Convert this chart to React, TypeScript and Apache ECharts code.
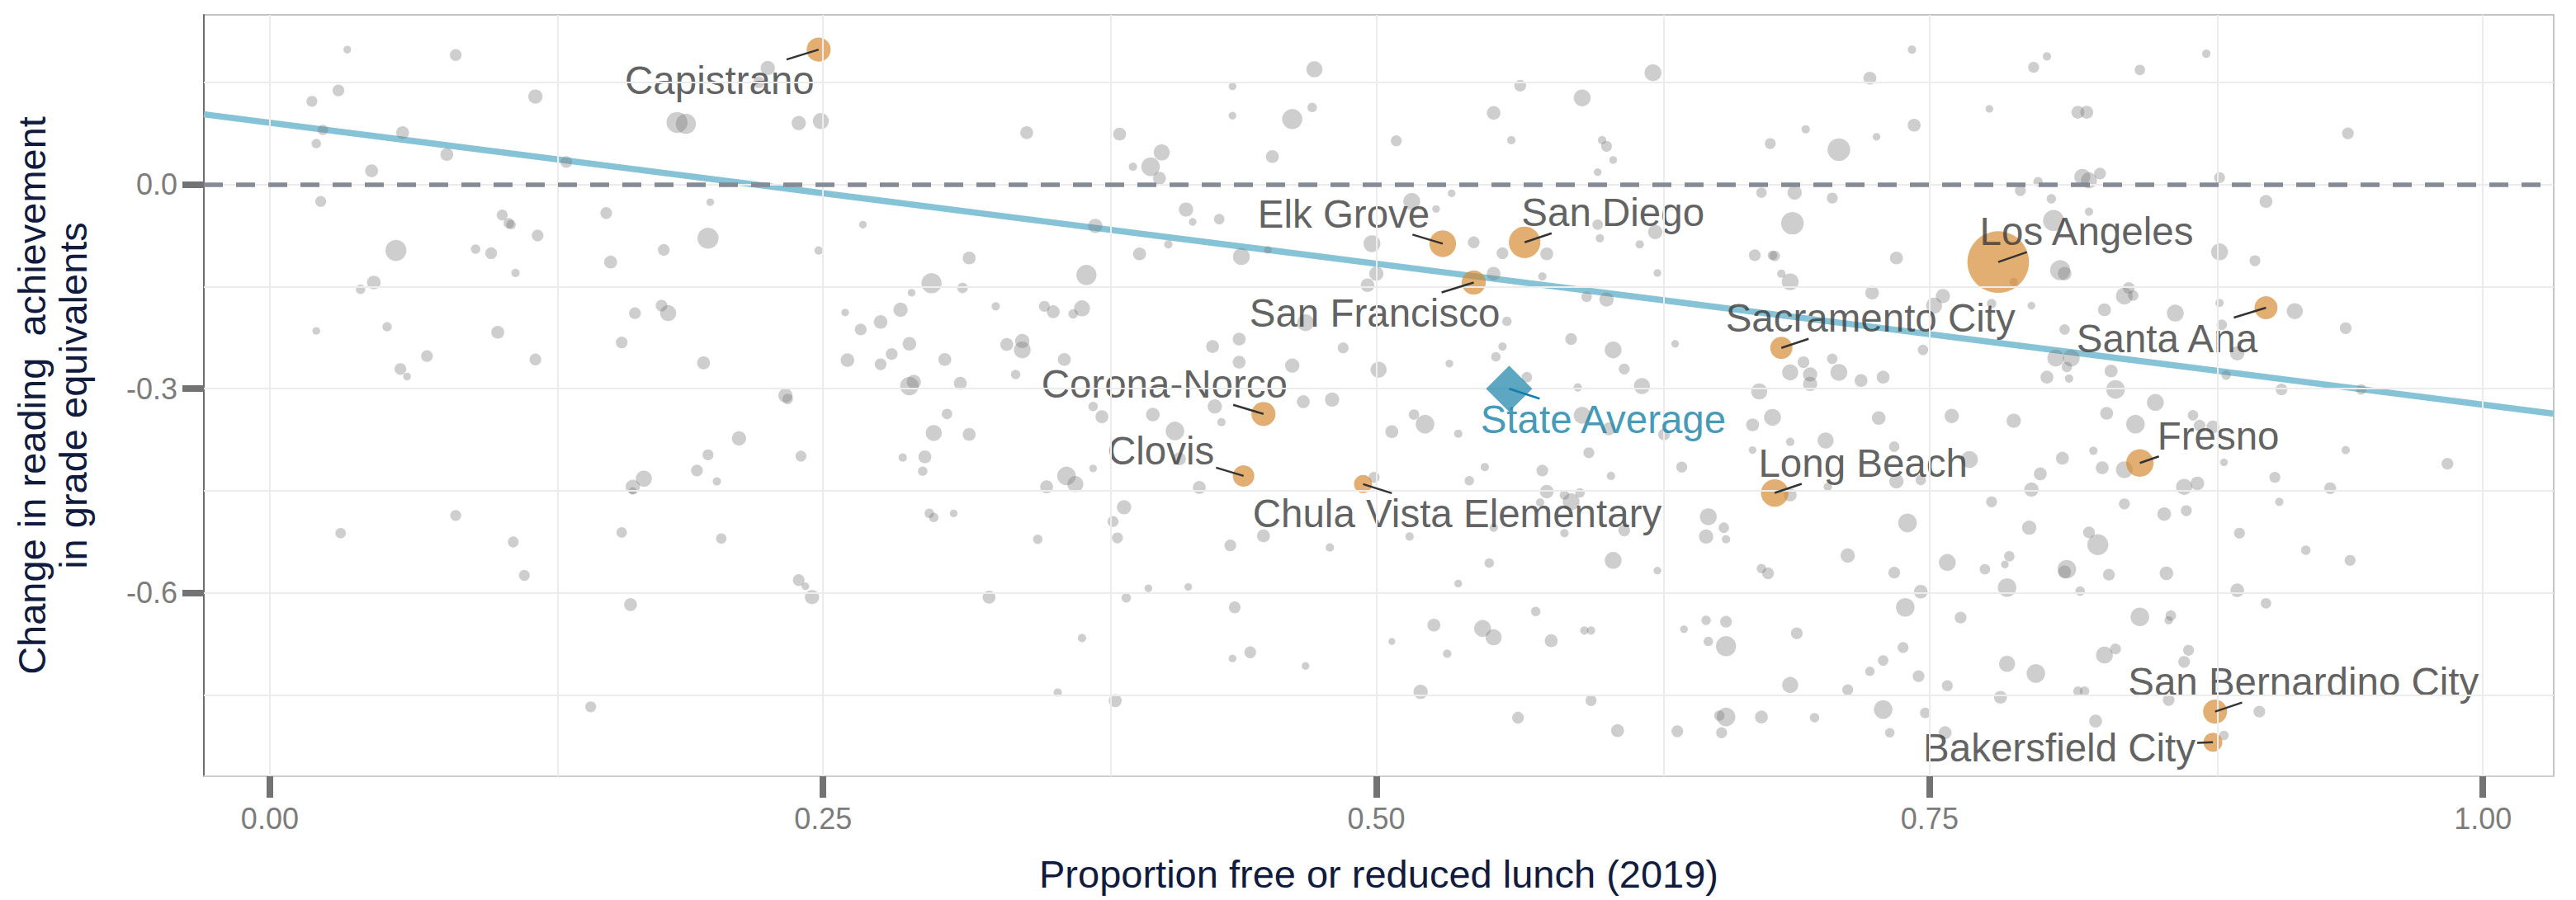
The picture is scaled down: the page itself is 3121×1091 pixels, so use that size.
import React, { useEffect, useRef } from "react";
import * as echarts from "echarts";

// ---------- DATA ----------
// Other districts: [proportion free/reduced lunch 2019, change in reading (grade equivalents), enrollment (thousands)]
const otherDistricts: [number, number, number][] = [
  [0.035, 0.198, 4], [0.084, 0.190, 12], [0.031, 0.138, 12], [0.019, 0.122, 10], [0.120, 0.129, 19],
  [0.225, 0.171, 19], [0.221, 0.150, 12], [0.184, 0.091, 46], [0.188, 0.089, 42], [0.239, 0.090, 19],
  [0.249, 0.093, 25], [0.024, 0.080, 9], [0.060, 0.076, 15], [0.021, 0.060, 7], [0.080, 0.044, 15],
  [0.134, 0.033, 12], [0.046, 0.020, 15], [0.023, -0.025, 10], [0.199, -0.026, 4], [0.152, -0.042, 12],
  [0.105, -0.045, 10], [0.108, -0.057, 9], [0.109, -0.059, 7], [0.121, -0.075, 12], [0.268, -0.059, 4],
  [0.057, -0.097, 46], [0.093, -0.095, 7], [0.100, -0.101, 12], [0.198, -0.079, 46], [0.178, -0.096, 12],
  [0.154, -0.114, 15], [0.248, -0.097, 5], [0.316, -0.108, 15], [0.111, -0.130, 5], [0.047, -0.144, 17],
  [0.041, -0.154, 7], [0.299, -0.145, 42], [0.313, -0.152, 9], [0.290, -0.159, 4], [0.165, -0.189, 12],
  [0.177, -0.178, 12], [0.180, -0.189, 25], [0.285, -0.184, 19], [0.260, -0.188, 4], [0.276, -0.202, 17],
  [0.267, -0.213, 12], [0.021, -0.215, 4], [0.053, -0.209, 7], [0.103, -0.217, 15], [0.159, -0.232, 12],
  [0.289, -0.234, 17], [0.071, -0.252, 12], [0.120, -0.257, 12], [0.196, -0.262, 15], [0.261, -0.258, 17],
  [0.281, -0.249, 12], [0.276, -0.264, 12], [0.305, -0.257, 15], [0.059, -0.271, 12], [0.062, -0.282, 4],
  [0.289, -0.296, 35], [0.291, -0.290, 19], [0.312, -0.292, 15], [0.233, -0.310, 19],
  [0.234, -0.315, 9], [0.306, -0.337, 9], [0.300, -0.365, 25], [0.316, -0.367, 15], [0.212, -0.373, 19],
  [0.198, -0.397, 10], [0.240, -0.399, 10], [0.286, -0.401, 5], [0.296, -0.400, 15], [0.193, -0.420, 12],
  [0.295, -0.421, 7], [0.169, -0.432, 25], [0.164, -0.444, 19], [0.202, -0.436, 5], [0.164, -0.450, 4],
  [0.084, -0.486, 10], [0.032, -0.512, 9], [0.110, -0.525, 10], [0.159, -0.511, 9], [0.204, -0.520, 9],
  [0.298, -0.483, 7], [0.300, -0.489, 7], [0.309, -0.483, 4], [0.115, -0.574, 10], [0.239, -0.581, 12],
  [0.242, -0.590, 4], [0.245, -0.606, 19], [0.163, -0.617, 15], [0.145, -0.767, 10],
  [0.472, 0.169, 25], [0.625, 0.164, 28], [0.435, 0.144, 4], [0.565, 0.145, 12], [0.593, 0.127, 28],
  [0.462, 0.096, 42], [0.471, 0.113, 7], [0.435, 0.101, 4], [0.553, 0.105, 17], [0.342, 0.076, 15],
  [0.384, 0.074, 15], [0.509, 0.064, 10], [0.561, 0.065, 5], [0.602, 0.065, 5], [0.604, 0.056, 10],
  [0.607, 0.036, 4], [0.600, 0.018, 4], [0.678, 0.060, 10], [0.403, 0.047, 25], [0.398, 0.026, 35],
  [0.390, 0.026, 5], [0.402, 0.009, 15], [0.453, 0.041, 15], [0.674, -0.012, 9], [0.534, -0.013, 4],
  [0.516, -0.025, 28], [0.414, -0.037, 19], [0.429, -0.051, 9], [0.417, -0.055, 4], [0.527, -0.036, 4],
  [0.600, -0.059, 9], [0.626, -0.070, 19], [0.601, -0.079, 5], [0.619, -0.088, 5], [0.373, -0.061, 19],
  [0.406, -0.088, 5], [0.498, -0.087, 28], [0.544, -0.085, 12], [0.557, -0.101, 12], [0.577, -0.102, 15],
  [0.393, -0.102, 15], [0.439, -0.106, 28], [0.451, -0.096, 4], [0.671, -0.104, 12], [0.679, -0.104, 7],
  [0.369, -0.133, 42], [0.500, -0.131, 19], [0.496, -0.148, 17], [0.553, -0.131, 17], [0.575, -0.135, 5],
  [0.627, -0.130, 4], [0.595, -0.165, 9], [0.604, -0.169, 19], [0.328, -0.179, 5], [0.350, -0.179, 10],
  [0.354, -0.187, 15], [0.363, -0.190, 7], [0.367, -0.182, 25], [0.468, -0.203, 28], [0.559, -0.201, 7],
  [0.333, -0.235, 15], [0.340, -0.230, 19], [0.340, -0.243, 28], [0.426, -0.238, 15], [0.438, -0.227, 15],
  [0.485, -0.240, 10], [0.588, -0.227, 12], [0.607, -0.243, 28], [0.635, -0.234, 4], [0.557, -0.238, 5],
  [0.554, -0.253, 7], [0.359, -0.257, 15], [0.438, -0.261, 15], [0.462, -0.266, 19], [0.501, -0.272, 25],
  [0.533, -0.263, 4], [0.612, -0.271, 10], [0.337, -0.279, 7], [0.568, -0.283, 9], [0.620, -0.296, 25],
  [0.591, -0.298, 5], [0.673, -0.304, 25],
  [0.372, -0.326, 7], [0.376, -0.341, 15], [0.399, -0.338, 17], [0.427, -0.326, 19], [0.430, -0.349, 5],
  [0.409, -0.362, 35], [0.467, -0.319, 15], [0.480, -0.316, 19], [0.507, -0.363, 15], [0.522, -0.352, 35],
  [0.517, -0.338, 9], [0.537, -0.366, 5], [0.593, -0.339, 28], [0.605, -0.359, 15], [0.630, -0.367, 12],
  [0.670, -0.353, 15], [0.596, -0.394, 10], [0.638, -0.415, 10], [0.670, -0.390, 4], [0.372, -0.417, 4],
  [0.411, -0.403, 15], [0.360, -0.428, 35], [0.364, -0.440, 25], [0.351, -0.444, 15], [0.420, -0.445, 15],
  [0.549, -0.415, 5], [0.575, -0.420, 12], [0.606, -0.428, 5], [0.542, -0.435, 7], [0.499, -0.430, 10],
  [0.577, -0.451, 17], [0.585, -0.456, 7], [0.588, -0.466, 28], [0.592, -0.453, 7], [0.574, -0.467, 5],
  [0.650, -0.488, 28], [0.657, -0.504, 9], [0.649, -0.517, 19], [0.658, -0.521, 5], [0.612, -0.508, 12],
  [0.585, -0.512, 5], [0.553, -0.504, 5], [0.386, -0.474, 19], [0.381, -0.495, 10], [0.383, -0.519, 10],
  [0.347, -0.521, 7], [0.434, -0.530, 12], [0.449, -0.516, 15], [0.479, -0.533, 5], [0.515, -0.517, 5],
  [0.607, -0.552, 28], [0.551, -0.556, 7], [0.627, -0.567, 4], [0.674, -0.564, 7], [0.677, -0.571, 12],
  [0.537, -0.586, 4], [0.325, -0.606, 15], [0.387, -0.607, 7], [0.397, -0.593, 4], [0.415, -0.591, 4],
  [0.436, -0.621, 12], [0.572, -0.627, 7], [0.526, -0.647, 15], [0.548, -0.652, 28], [0.553, -0.665, 25],
  [0.579, -0.670, 15], [0.594, -0.655, 5], [0.597, -0.655, 5], [0.639, -0.653, 4], [0.649, -0.640, 7],
  [0.658, -0.642, 12], [0.650, -0.671, 7], [0.658, -0.678, 42], [0.367, -0.666, 5], [0.435, -0.696, 4],
  [0.443, -0.687, 12], [0.468, -0.707, 4], [0.507, -0.671, 3], [0.532, -0.689, 5], [0.356, -0.746, 5],
  [0.382, -0.758, 15], [0.520, -0.745, 19], [0.597, -0.758, 10], [0.564, -0.783, 12], [0.609, -0.802, 15],
  [0.636, -0.803, 12], [0.656, -0.805, 10], [0.658, -0.782, 35], [0.655, -0.780, 9], [0.674, -0.782, 15],
  [0.742, 0.198, 5], [0.803, 0.188, 5], [0.797, 0.172, 10], [0.845, 0.168, 9], [0.875, 0.192, 5],
  [0.723, 0.156, 15], [0.777, 0.111, 4], [0.817, 0.106, 15], [0.821, 0.106, 15], [0.939, 0.075, 12],
  [0.694, 0.081, 5], [0.743, 0.087, 15], [0.726, 0.070, 4], [0.709, 0.051, 54], [0.819, 0.011, 25],
  [0.822, 0.006, 25], [0.827, 0.016, 12], [0.799, 0.004, 7], [0.791, -0.009, 10], [0.881, 0.010, 10],
  [0.689, -0.012, 19], [0.706, -0.020, 10], [0.805, -0.021, 7], [0.902, -0.025, 15], [0.822, -0.040, 5],
  [0.688, -0.057, 54], [0.806, -0.053, 46], [0.680, -0.105, 9], [0.735, -0.108, 15], [0.881, -0.099, 28],
  [0.897, -0.112, 10], [0.809, -0.126, 42], [0.811, -0.131, 17], [0.683, -0.131, 5], [0.687, -0.143, 28],
  [0.788, -0.143, 5], [0.724, -0.159, 17], [0.756, -0.164, 19], [0.840, -0.152, 12], [0.838, -0.164, 28],
  [0.842, -0.163, 9], [0.752, -0.178, 25], [0.778, -0.175, 7], [0.796, -0.178, 4], [0.829, -0.184, 15],
  [0.861, -0.189, 28], [0.881, -0.174, 5], [0.915, -0.186, 25], [0.938, -0.211, 12], [0.882, -0.206, 9],
  [0.811, -0.213, 9], [0.747, -0.243, 9], [0.889, -0.248, 19], [0.807, -0.255, 28], [0.814, -0.255, 28],
  [0.812, -0.268, 9], [0.832, -0.274, 15], [0.803, -0.283, 15], [0.813, -0.285, 5], [0.884, -0.280, 7],
  [0.909, -0.301, 12], [0.945, -0.301, 9], [0.834, -0.301, 35], [0.693, -0.261, 12], [0.706, -0.256, 9],
  [0.687, -0.276, 25], [0.696, -0.279, 19], [0.709, -0.276, 28], [0.696, -0.293, 19], [0.719, -0.288, 15],
  [0.729, -0.283, 15],
  [0.679, -0.342, 28], [0.727, -0.343, 17], [0.760, -0.340, 19], [0.788, -0.347, 19], [0.830, -0.336, 15],
  [0.843, -0.352, 35], [0.852, -0.320, 28], [0.869, -0.339, 9], [0.872, -0.354, 12], [0.878, -0.356, 15],
  [0.687, -0.378, 5], [0.703, -0.376, 25], [0.734, -0.385, 9], [0.768, -0.404, 28], [0.746, -0.434, 9],
  [0.735, -0.436, 19], [0.687, -0.456, 15], [0.704, -0.444, 5], [0.810, -0.402, 15], [0.824, -0.391, 5],
  [0.800, -0.425, 15], [0.828, -0.416, 15], [0.838, -0.419, 28], [0.796, -0.448, 19], [0.865, -0.444, 25],
  [0.871, -0.439, 17], [0.883, -0.408, 4], [0.906, -0.430, 10], [0.938, -0.390, 5], [0.984, -0.410, 12],
  [0.931, -0.446, 12], [0.908, -0.466, 5], [0.778, -0.466, 10], [0.838, -0.469, 10], [0.856, -0.484, 17],
  [0.866, -0.479, 10], [0.740, -0.497, 35], [0.795, -0.504, 19], [0.822, -0.511, 12], [0.826, -0.529, 46],
  [0.890, -0.512, 10], [0.920, -0.537, 7], [0.940, -0.552, 10], [0.713, -0.545, 19], [0.758, -0.555, 28],
  [0.775, -0.565, 9], [0.784, -0.558, 4], [0.786, -0.546, 9], [0.812, -0.565, 35], [0.811, -0.569, 15],
  [0.831, -0.573, 12], [0.857, -0.571, 17], [0.734, -0.570, 12], [0.785, -0.592, 35], [0.746, -0.598, 17],
  [0.818, -0.597, 7], [0.889, -0.596, 17], [0.739, -0.621, 35], [0.764, -0.636, 12], [0.845, -0.635, 35],
  [0.859, -0.633, 9], [0.858, -0.640, 5], [0.902, -0.615, 9], [0.690, -0.659, 12], [0.738, -0.680, 10],
  [0.829, -0.691, 28], [0.834, -0.682, 10], [0.867, -0.684, 10], [0.865, -0.701, 12], [0.729, -0.699, 9],
  [0.723, -0.715, 7], [0.745, -0.722, 12], [0.785, -0.704, 25], [0.798, -0.718, 35], [0.687, -0.735, 25],
  [0.713, -0.742, 10], [0.758, -0.736, 10], [0.782, -0.753, 15], [0.817, -0.744, 7], [0.820, -0.744, 7],
  [0.858, -0.757, 12], [0.729, -0.771, 35], [0.748, -0.776, 9], [0.698, -0.783, 7], [0.825, -0.788, 15],
  [0.899, -0.774, 12], [0.732, -0.805, 7], [0.757, -0.805, 15], [0.883, -0.809, 7],
];

// Highlighted districts
const highlightNames = [
  "Capistrano", "Elk Grove", "San Diego", "San Francisco", "Corona-Norco", "Clovis",
  "Chula Vista Elementary", "Los Angeles", "Sacramento City", "Santa Ana", "Long Beach",
  "Fresno", "San Bernardino City", "Bakersfield City",
];
const highlightFrl = [0.248, 0.530, 0.567, 0.544, 0.449, 0.440, 0.494, 0.781, 0.683, 0.902, 0.680, 0.845, 0.879, 0.878];
const highlightChange = [0.198, -0.087, -0.085, -0.144, -0.337, -0.428, -0.440, -0.114, -0.240, -0.181, -0.453, -0.409, -0.774, -0.819];
const highlightEnrollment = [62, 76, 110, 62, 62, 48, 33, 450, 52, 56, 82, 82, 62, 36];

// State average
const stateAverageFrl = 0.560;
const stateAverageChange = -0.300;

// Fitted line
const REG_INTERCEPT = 0.0906;
const REG_SLOPE = -0.414;

// Axes
const X_MIN = -0.0298;
const X_MAX = 1.032;
const Y_MIN = -0.869;
const Y_MAX = 0.249;
const xTickValues = [0, 0.25, 0.5, 0.75, 1];
const yTickValues = [0, -0.3, -0.6];
const xGridValues = [0, 0.125, 0.25, 0.375, 0.5, 0.625, 0.75, 0.875, 1];
const yGridValues = [0.15, 0, -0.15, -0.3, -0.45, -0.6, -0.75];

// ---------- LAYOUT (label offsets from point centre, px) ----------
const highlightLabelOffsets: [number, number][] = [
  [-120, 37], [-120, -36], [107, -36], [-120, 37], [-120, -36], [-100, -30],
  [114, 36], [107, -37], [108, -36], [-120, 37], [107, -36], [95, -33], [107, -36], [-186, 7],
];
const stateLabelOffset: [number, number] = [114, 37];

const FONT = "'Liberation Sans', Arial, Helvetica, sans-serif";
const LABEL_SIZE = 47.5;
const sizeOf = (enroll: number) => 2.5 + 3.4 * Math.sqrt(enroll);

function measure(text: string): number {
  const c = document.createElement("canvas").getContext("2d");
  if (!c) return text.length * LABEL_SIZE * 0.5;
  c.font = `${LABEL_SIZE}px 'Liberation Sans', Arial, sans-serif`;
  return c.measureText(text).width;
}

export default function App() {
  const ref = useRef<HTMLDivElement>(null);

  useEffect(() => {
    if (!ref.current) return;
    const chart = echarts.init(ref.current, undefined, { renderer: "svg" });

    const layoutFor = (offsets: [number, number][]) => (p: any) => {
      const off = offsets[p.dataIndex] || [0, 0];
      const cx = p.rect.x + p.rect.width / 2;
      const cy = p.rect.y + p.rect.height / 2;
      return { x: cx + off[0], y: cy + off[1], align: "center", verticalAlign: "middle" };
    };

    const option: any = {
      animation: false,
      textStyle: { fontFamily: FONT },
      grid: {
        left: 247, right: 27, top: 18, bottom: 150,
        show: true, borderColor: "#c4c4c4", borderWidth: 2, backgroundColor: "#ffffff",
      },
      xAxis: {
        type: "value", min: X_MIN, max: X_MAX,
        splitLine: { show: false },
        axisLine: { show: true, onZero: false, lineStyle: { color: "#cfcfcf", width: 2 } },
        axisTick: { show: true, customValues: xTickValues, length: 26, lineStyle: { color: "#737373", width: 8 } },
        axisLabel: {
          customValues: xTickValues, formatter: (v: number) => v.toFixed(2),
          margin: 33, fontSize: 36, color: "#7c7c7c", fontFamily: FONT,
        },
        name: "Proportion free or reduced lunch (2019)",
        nameLocation: "middle", nameGap: 95,
        nameTextStyle: { fontSize: 47, color: "#111b3d", fontFamily: FONT, lineHeight: 47 },
      },
      yAxis: {
        type: "value", min: Y_MIN, max: Y_MAX,
        splitLine: { show: false },
        axisLine: { show: true, onZero: false, lineStyle: { color: "#6e6e6e", width: 2 } },
        axisTick: { show: true, customValues: yTickValues, length: 26, lineStyle: { color: "#737373", width: 8 } },
        axisLabel: {
          customValues: yTickValues, formatter: (v: number) => v.toFixed(1),
          margin: 32, fontSize: 36, color: "#7c7c7c", fontFamily: FONT,
        },
        name: "Change in reading  achievement\nin grade equivalents",
        nameLocation: "middle", nameRotate: 90, nameGap: 134,
        nameTextStyle: { fontSize: 47, color: "#111b3d", fontFamily: FONT, lineHeight: 50 },
      },
      series: [
        {
          type: "line", name: "grid", z: 0, silent: true, showSymbol: false,
          data: [[X_MIN, Y_MIN]],
          lineStyle: { width: 0 },
          markLine: {
            silent: true, symbol: "none", animation: false, label: { show: false },
            lineStyle: { color: "#ececec", width: 2, type: "solid" },
            data: [
              ...xGridValues.map((v) => ({ xAxis: v })),
              ...yGridValues.map((v) => ({ yAxis: v })),
            ],
          },
        },
        {
          type: "line", name: "zero", z: 1, silent: true, showSymbol: false,
          data: [[X_MIN, Y_MIN]],
          lineStyle: { width: 0 },
          markLine: {
            silent: true, symbol: "none", animation: false, label: { show: false },
            lineStyle: { color: "#858a97", width: 5.5, type: [23, 16] },
            data: [{ yAxis: 0 }],
          },
        },
        {
          type: "line", name: "fit", z: 2, silent: true, showSymbol: false,
          data: [
            [X_MIN, REG_INTERCEPT + REG_SLOPE * X_MIN],
            [X_MAX, REG_INTERCEPT + REG_SLOPE * X_MAX],
          ],
          lineStyle: { color: "#86c3d7", width: 7.5 },
        },
        {
          type: "scatter", name: "districts", z: 3, silent: true,
          data: otherDistricts,
          symbolSize: (val: number[]) => sizeOf(val[2]),
          itemStyle: { color: "rgba(120,120,120,0.45)" },
        },
        {
          type: "scatter", name: "highlighted", z: 4, silent: true,
          data: highlightNames.map((n, i) => ({
            name: n, value: [highlightFrl[i], highlightChange[i], highlightEnrollment[i]],
          })),
          symbolSize: (val: number[]) => sizeOf(val[2]),
          itemStyle: { color: "rgba(212,135,45,0.85)" },
          label: {
            show: true, formatter: "{b}", fontSize: LABEL_SIZE, color: "#383838", fontFamily: FONT,
          },
          labelLayout: layoutFor(highlightLabelOffsets),
        },
        {
          type: "scatter", name: "state", z: 5, silent: true,
          data: [{ name: "State Average", value: [stateAverageFrl, stateAverageChange] }],
          symbol: "diamond", symbolSize: 56,
          itemStyle: { color: "rgba(16,126,166,0.85)" },
          label: {
            show: true, formatter: "{b}", fontSize: LABEL_SIZE, color: "#1280a6", fontFamily: FONT,
          },
          labelLayout: layoutFor([stateLabelOffset]),
        },
      ],
    };

    chart.setOption(option);

    // Leader segments (ggrepel style): from point centre toward label centre, stopping at label box
    const segment = (dataPt: number[], off: [number, number], text: string, color: string) => {
      const p = chart.convertToPixel({ gridIndex: 0 }, dataPt) as number[];
      const lx = p[0] + off[0];
      const ly = p[1] + off[1];
      const hw = measure(text) / 2 + 2;
      const hh = 25;
      const dx = p[0] - lx;
      const dy = p[1] - ly;
      const tx = dx === 0 ? Infinity : hw / Math.abs(dx);
      const ty = dy === 0 ? Infinity : hh / Math.abs(dy);
      const t = Math.min(tx, ty);
      if (t >= 1) return null;
      return {
        type: "line", z: 100, silent: true,
        shape: { x1: p[0], y1: p[1], x2: lx + dx * t, y2: ly + dy * t },
        style: { stroke: color, lineWidth: 2.5 },
      };
    };

    const segs: any[] = [];
    highlightNames.forEach((n, i) => {
      const s = segment([highlightFrl[i], highlightChange[i]], highlightLabelOffsets[i], n, "#333333");
      if (s) segs.push(s);
    });
    const st = segment([stateAverageFrl, stateAverageChange], stateLabelOffset, "State Average", "#1280a6");
    if (st) segs.push(st);
    chart.setOption({ graphic: { elements: segs } });

    return () => chart.dispose();
  }, []);

  return (
    <div
      ref={ref}
      style={{ position: "fixed", left: 0, top: 0, width: 3121, height: 1091, background: "#ffffff" }}
    />
  );
}
